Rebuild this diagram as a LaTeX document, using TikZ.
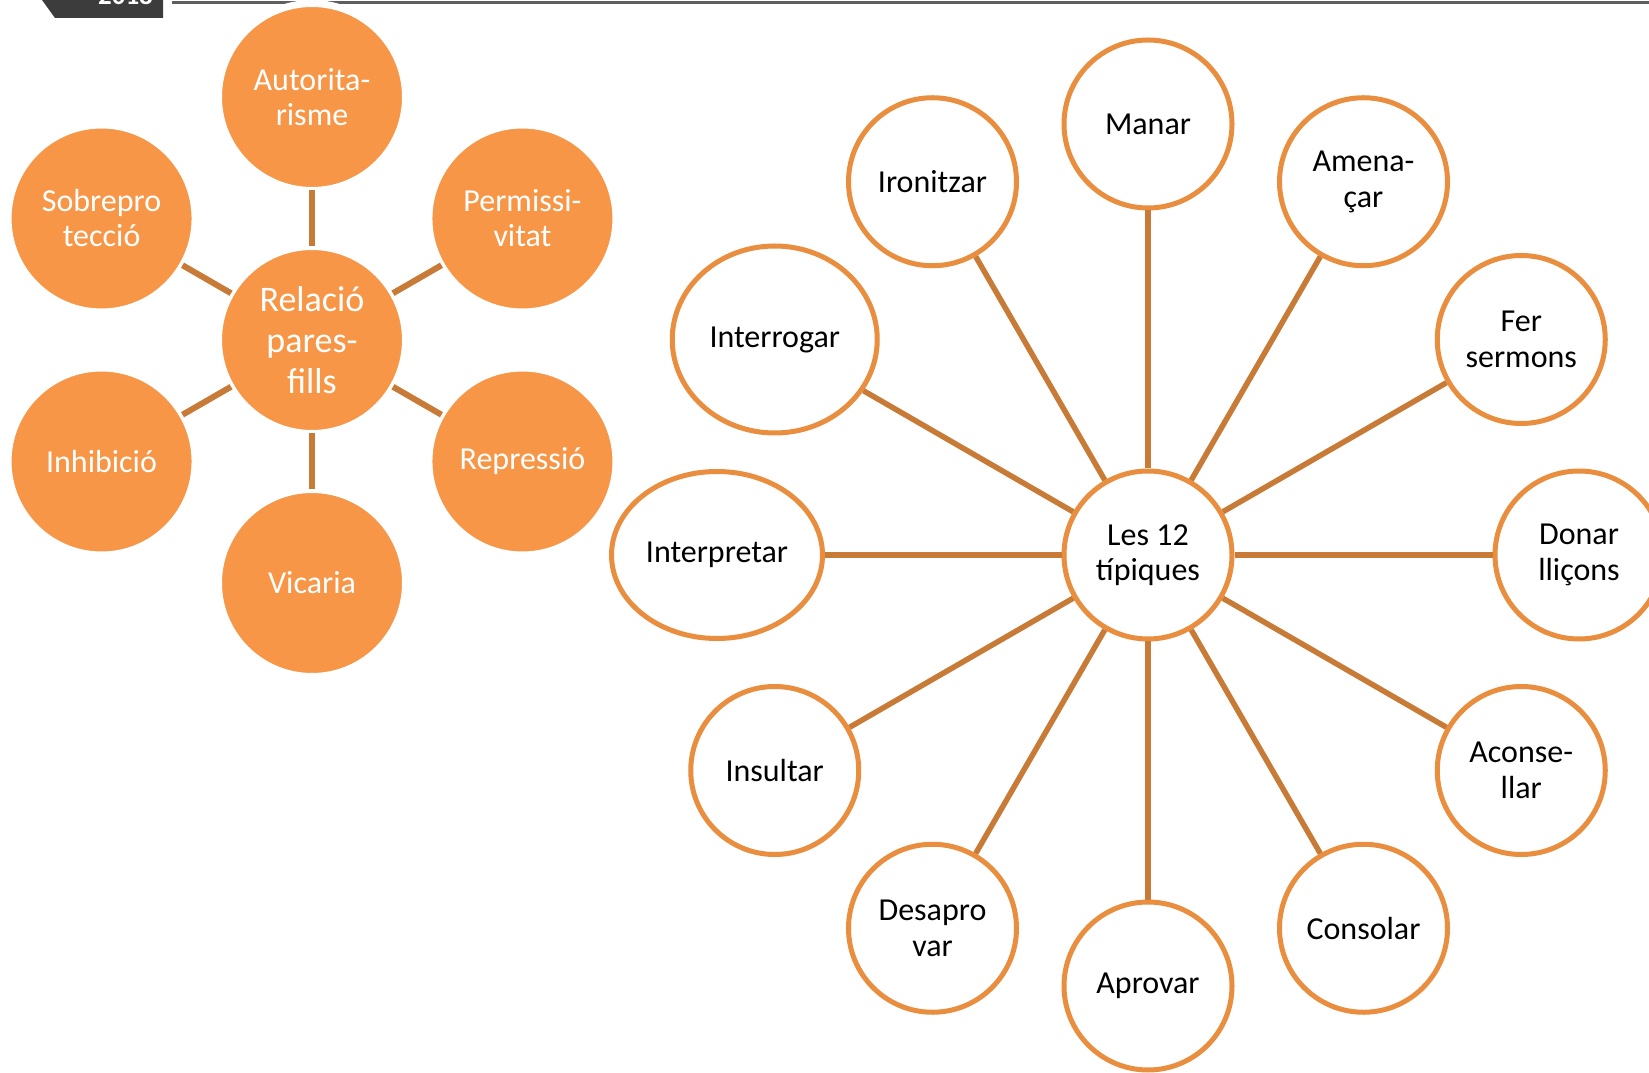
\documentclass[tikz,border=0pt]{standalone}
\usepackage{fontspec}
\setmainfont{Carlito}
\usetikzlibrary{calc,shapes.geometric}
\definecolor{taronja}{HTML}{F79646}
\definecolor{vora}{HTML}{E98D3E}
\definecolor{marro}{HTML}{C77B37}
\definecolor{fosc}{HTML}{3C3C3C}
\definecolor{ratlla}{HTML}{5F5F5F}
\begin{document}
\begin{tikzpicture}[x=0.5pt, y=0.5pt,
  plena/.style={circle, fill=taronja, draw=white, line width=3.5pt, outer sep=0pt, inner sep=0pt,
    minimum size=93.5pt, text=white, align=center, font=\fontsize{16}{17.5}\selectfont},
  buida/.style={circle, fill=white, draw=vora, line width=2.5pt, inner sep=0pt,
    minimum size=84pt, align=center, font=\fontsize{16}{17.8}\selectfont},
  ovalada/.style={buida, ellipse},
  lligam/.style={draw=marro, line width=2.75pt},
  lligamcurt/.style={draw=marro, line width=3pt}]
  \useasboundingbox (0,0) rectangle (1649,1072);
  \clip (0,0) rectangle (1649,1072);
  \fill[fosc] (42,1072) -- (163,1072) -- (163,1054) -- (55,1054) -- cycle;
  \node[anchor=base, text=white, inner sep=0pt, font=\fontsize{13.5}{14}\selectfont\bfseries] (any) at (125.5,1067) {2018};
  \coordinate (ratllaA) at (172,1069.5);
  \coordinate (ratllaB) at (1649,1069.5);
  \draw[ratlla, line width=1.5pt] (ratllaA) -- (ratllaB);

  \node[plena, font=\fontsize{18}{20.5}\selectfont] (relacio) at (312,732) {Relació\\pares-\\fills};
  \foreach \ang/\nom/\txt in {90/autoritarisme/Autorita-\\risme, 30/permissivitat/Permissi-\\vitat,
      330/repressio/Repressió, 270/vicaria/Vicaria, 210/inhibicio/Inhibició, 150/sobreproteccio/Sobrepro\\tecció}
    \node[plena] (\nom) at ($(relacio)+(\ang:243)$) {\txt};
  \foreach \nom in {autoritarisme, permissivitat, repressio, vicaria, inhibicio, sobreproteccio}
    \draw[lligamcurt] (relacio) -- (\nom);

  \node[buida] (tipiques) at (1148,517) {Les 12\\típiques};
  \foreach \ang/\nom/\txt in {90/manar/Manar, 120/ironitzar/Ironitzar, 60/amenacar/Amena-\\çar,
      30/sermons/Fer\\sermons, 0/llicons/Donar\\lliçons, 330/aconsellar/Aconse-\\llar,
      300/consolar/Consolar, 270/aprovar/Aprovar, 240/desaprovar/Desapro\\var, 210/insultar/Insultar}
    \node[buida] (\nom) at ($(tipiques)+(\ang:431)$) {\txt};
  \node[ovalada, minimum width=102.5pt, minimum height=93.5pt] (interrogar) at ($(tipiques)+(150:431)$) {Interrogar};
  \node[ovalada, minimum width=105.5pt, minimum height=83.5pt] (interpretar) at ($(tipiques)+(180:431)$) {Interpretar};
  \foreach \nom in {manar, ironitzar, amenacar, sermons, llicons, aconsellar, consolar, aprovar,
      desaprovar, insultar, interrogar, interpretar}
    \draw[lligam] (tipiques) -- (\nom);
\end{tikzpicture}
\end{document}
